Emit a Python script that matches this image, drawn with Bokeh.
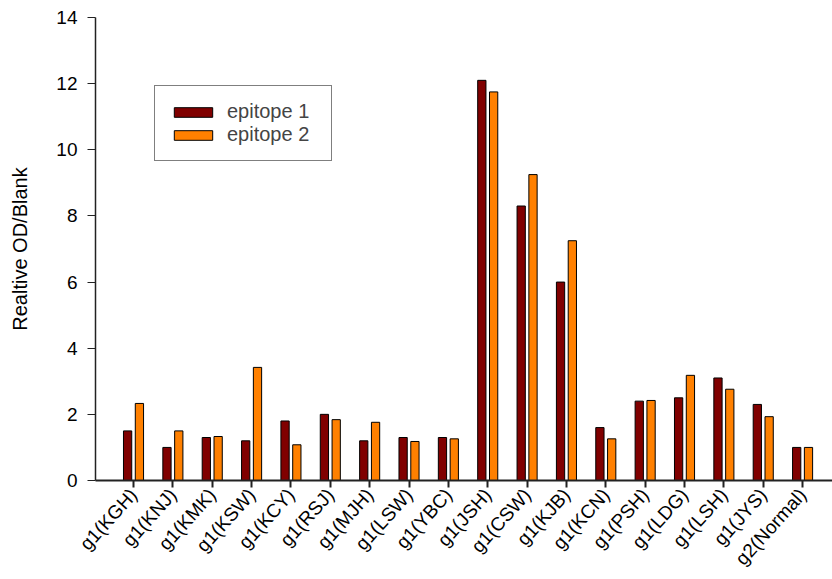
from bokeh.plotting import figure
from bokeh.models import ColumnDataSource, FixedTicker, Legend, LegendItem
from bokeh.transform import dodge
from bokeh.embed import file_html
from bokeh.resources import INLINE
import math

categories = ["g1(KGH)", "g1(KNJ)", "g1(KMK)", "g1(KSW)", "g1(KCY)", "g1(RSJ)",
              "g1(MJH)", "g1(LSW)", "g1(YBC)", "g1(JSH)", "g1(CSW)", "g1(KJB)",
              "g1(KCN)", "g1(PSH)", "g1(LDG)", "g1(LSH)", "g1(JYS)", "g2(Normal)"]
epitope1 = [1.5, 1.0, 1.3, 1.2, 1.8, 2.0, 1.2, 1.3, 1.3, 12.1, 8.3, 6.0,
            1.6, 2.4, 2.5, 3.1, 2.3, 1.0]
epitope2 = [2.33, 1.5, 1.33, 3.42, 1.08, 1.84, 1.76, 1.18, 1.26, 11.75, 9.25, 7.25,
            1.26, 2.42, 3.18, 2.76, 1.93, 1.0]
y_ticks = [0, 2, 4, 6, 8, 10, 12, 14]

FONT = "Liberation Sans"
idx = list(range(len(categories)))
src = ColumnDataSource(data=dict(idx=idx, e1=epitope1, e2=epitope2, cat=categories))

p = figure(width=832, height=579, output_backend="svg", toolbar_location=None,
           x_range=(-0.966, 17.76), y_range=(0, 14),
           min_border_left=95, min_border_right=0, min_border_top=17, min_border_bottom=95)
p.outline_line_color = None
p.xgrid.grid_line_color = None
p.ygrid.grid_line_color = None
p.background_fill_color = "white"
p.border_fill_color = "white"

r1 = p.vbar(x=dodge("idx", -0.15, range=p.x_range), top="e1", width=0.21, source=src,
            fill_color="#800000", line_color="black", line_width=1)
r2 = p.vbar(x=dodge("idx", 0.15, range=p.x_range), top="e2", width=0.21, source=src,
            fill_color="#FF8000", line_color="black", line_width=1)

# x axis
p.xaxis.ticker = FixedTicker(ticks=idx)
p.xaxis.major_label_overrides = {i: c for i, c in enumerate(categories)}
p.xaxis.major_label_orientation = 48 * math.pi / 180
p.xaxis.major_label_text_font = FONT
p.xaxis.major_label_text_font_size = "19px"
p.xaxis.major_label_text_color = "black"
p.xaxis.major_tick_out = 7
p.xaxis.major_tick_in = 0
p.xaxis.minor_tick_line_color = None
p.xaxis.axis_line_width = 2
p.xaxis.axis_line_color = "#222222"
p.xaxis.major_tick_line_width = 2
p.xaxis.major_tick_line_color = "#222222"
p.xaxis.major_label_standoff = 4

# y axis
p.yaxis.ticker = FixedTicker(ticks=y_ticks)
p.yaxis.major_label_text_font = FONT
p.yaxis.major_label_text_font_size = "19px"
p.yaxis.major_label_text_color = "black"
p.yaxis.major_tick_out = 8
p.yaxis.major_tick_in = 0
p.yaxis.minor_tick_line_color = None
p.yaxis.axis_line_width = 1.5
p.yaxis.axis_line_color = "#222222"
p.yaxis.major_tick_line_color = "#222222"
p.yaxis.major_label_standoff = 10
p.yaxis.axis_label = "Realtive OD/Blank"
p.yaxis.axis_label_text_font = FONT
p.yaxis.axis_label_text_font_size = "20px"
p.yaxis.axis_label_text_font_style = "normal"
p.yaxis.axis_label_text_color = "black"
p.yaxis.axis_label_standoff = 22

legend = Legend(items=[LegendItem(label="epitope 1", renderers=[r1]),
                       LegendItem(label="epitope 2", renderers=[r2])],
                location=(59, 319), label_text_font=FONT, label_text_font_size="20px",
                glyph_width=48, glyph_height=12, label_height=20, label_width=90,
                label_standoff=10, spacing=-3, padding=14, margin=0,
                border_line_color="black", border_line_width=1,
                background_fill_alpha=1)
p.add_layout(legend)

open("out.html", "w").write(file_html(p, INLINE))
